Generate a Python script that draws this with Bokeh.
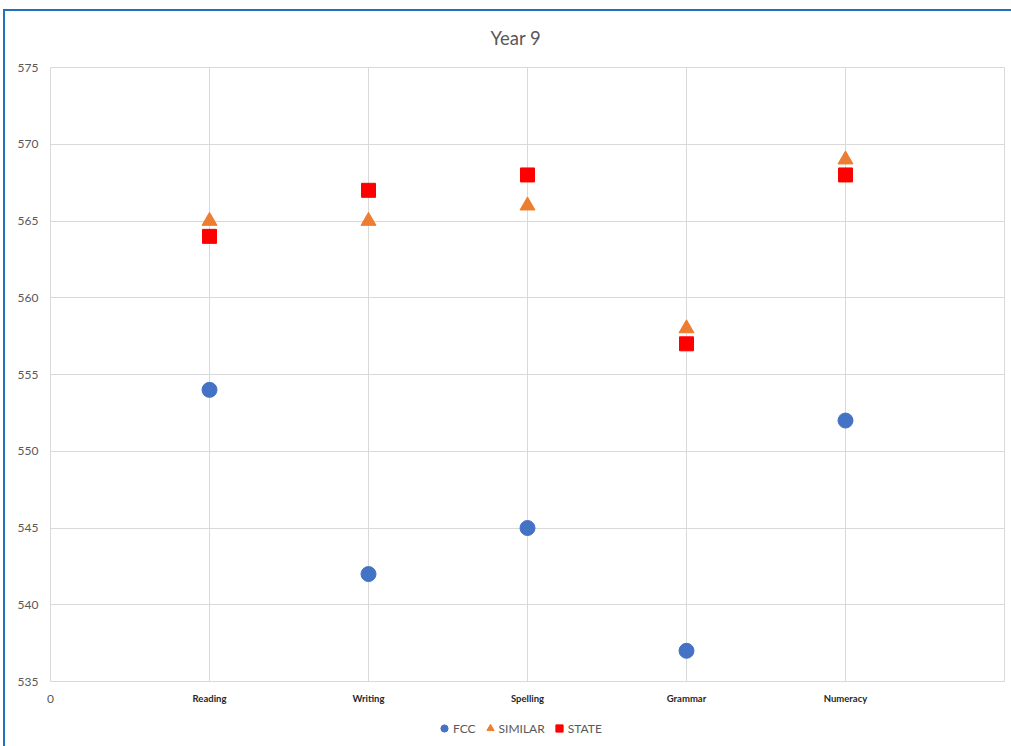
from bokeh.plotting import figure
from bokeh.layouts import column
from bokeh.models import (FixedTicker, Legend, LegendItem, ColumnDataSource,
                          Range1d, LinearAxis)
from bokeh.embed import file_html
from bokeh.resources import INLINE

# ---- data ----
categories = ["Reading", "Writing", "Spelling", "Grammar", "Numeracy"]
positions = [1, 2, 3, 4, 5]
fcc = [554, 542, 545, 537, 552]
similar = [565, 565, 566, 558, 569]
state = [564, 567, 568, 557, 568]
y_ticks = [535, 540, 545, 550, 555, 560, 565, 570, 575]
x_grid_ticks = [0, 1, 2, 3, 4, 5, 6]
x_zero_tick = [0]
series_names = ["FCC", "SIMILAR", "STATE"]

# ---- styles ----
FONT = "Lato"
GRID = "#D9D9D9"
TXT = "#595959"
BLUE = "#1F6FC5"
COLORS = ["#4472C4", "#ED7D31", "#FF0000"]
MARKERS = ["circle", "triangle", "square"]
SIZES = [15, 15, 14]

p = figure(width=1011, height=710, output_backend="svg", toolbar_location=None,
           x_range=Range1d(0, 6), y_range=Range1d(535, 575),
           min_border_left=50, min_border_right=7, min_border_top=67,
           min_border_bottom=29, title="Year 9", x_axis_location=None)
p.border_fill_color = None

p.title.align = "left"
p.title.offset = 440
p.title.text_font = FONT
p.title.text_font_style = "normal"
p.title.text_font_size = "18.5px"
p.title.text_color = TXT
p.title.standoff = 37

p.outline_line_color = GRID
p.outline_line_width = 1
p.xgrid.ticker = FixedTicker(ticks=x_grid_ticks)
p.ygrid.ticker = FixedTicker(ticks=y_ticks)
p.xgrid.grid_line_color = GRID
p.ygrid.grid_line_color = GRID


def plain(ax, size, color, style="normal"):
    ax.axis_line_color = None
    ax.major_tick_line_color = None
    ax.minor_tick_line_color = None
    ax.major_tick_out = 0
    ax.major_tick_in = 0
    ax.major_label_text_font = FONT
    ax.major_label_text_font_size = size
    ax.major_label_text_color = color
    ax.major_label_text_font_style = style


p.yaxis.ticker = FixedTicker(ticks=y_ticks)
plain(p.yaxis[0], "12px", TXT)
p.yaxis.major_label_standoff = 12

cat_axis = LinearAxis(ticker=FixedTicker(ticks=positions),
                      major_label_overrides={pos: c for pos, c in zip(positions, categories)})
plain(cat_axis, "9.5px", "#262626", "bold")
cat_axis.major_label_standoff = 11
p.add_layout(cat_axis, "below")

zero_axis = LinearAxis(ticker=FixedTicker(ticks=x_zero_tick))
plain(zero_axis, "12px", TXT)
zero_axis.major_label_standoff = -12
p.add_layout(zero_axis, "below")

src = ColumnDataSource(dict(x=positions, FCC=fcc, SIMILAR=similar, STATE=state))

# legend strip below the chart (same series, drawn outside its visible range)
p2 = figure(width=1011, height=36, output_backend="svg", toolbar_location=None,
            x_range=Range1d(100, 101), y_range=Range1d(100, 101),
            min_border=0, x_axis_location=None, y_axis_location=None)
p2.border_fill_color = None
p2.background_fill_color = None
p2.outline_line_color = None
p2.grid.visible = False

items = []
for name, col, mk, sz in zip(series_names, COLORS, MARKERS, SIZES):
    p.scatter("x", name, source=src, marker=mk, size=sz,
              fill_color=col, line_color=col)
    r = p2.scatter("x", name, source=src, marker=mk, size=sz,
                   fill_color=col, line_color=col)
    items.append(LegendItem(label=name, renderers=[r]))

legend = Legend(items=items, orientation="horizontal", location=(385, 9),
                glyph_width=18, glyph_height=18, label_standoff=-2, spacing=5,
                label_text_font=FONT, label_text_font_size="12px",
                label_text_color=TXT, background_fill_alpha=0,
                border_line_color=None, padding=2, margin=0)
p2.add_layout(legend)

layout = column(p, p2, spacing=0)
layout.styles = {"background": (f"linear-gradient({BLUE},{BLUE}) 3px 9px / 2px 740px no-repeat, "
                                f"linear-gradient({BLUE},{BLUE}) 3px 9px / 1010px 2px no-repeat, "
                                "#ffffff")}

open("out.html", "w").write(file_html(layout, INLINE))
